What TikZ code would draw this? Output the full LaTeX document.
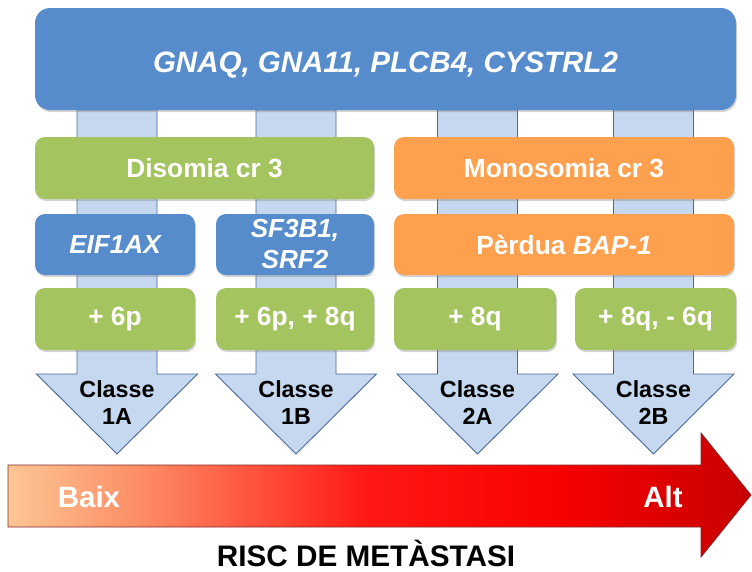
\documentclass[tikz,border=0pt]{standalone}
\usepackage{fontspec}
\setmainfont{Liberation Sans}
\usetikzlibrary{shadows, backgrounds}

\definecolor{geneblue}{RGB}{86,139,204}
\definecolor{disgreen}{RGB}{164,196,96}
\definecolor{monorange}{RGB}{255,160,78}
\definecolor{shaftfill}{RGB}{198,216,239}
\definecolor{shaftline}{RGB}{74,104,150}
\definecolor{riskline}{RGB}{130,40,40}
\definecolor{riskA}{RGB}{253,198,148}
\definecolor{riskB}{RGB}{253,140,100}
\definecolor{riskC}{RGB}{255,25,20}
\definecolor{riskD}{RGB}{248,0,0}
\definecolor{riskE}{RGB}{200,0,0}
\pgfdeclarehorizontalshading{riskshade}{100bp}{color(0bp)=(riskA); color(25bp)=(riskA); color(34bp)=(riskB); color(49bp)=(riskC); color(62bp)=(riskD); color(75bp)=(riskE); color(100bp)=(riskE)}

\begin{document}
\begin{tikzpicture}[x=1pt, y=-1pt,
  box/.style={rounded corners=10pt, minimum height=62pt, inner sep=0pt, align=center, text=white,
    font=\fontsize{26.3}{31}\selectfont\bfseries,
    drop shadow={opacity=0.35, shadow xshift=1pt, shadow yshift=-2pt}},
  bluebox/.style={box, fill=geneblue},
  greenbox/.style={box, fill=disgreen},
  orangebox/.style={box, fill=monorange},
  shaft/.style={fill=shaftfill, draw=shaftline, line width=0.9pt},
  classe/.style={font=\fontsize{23.3}{27}\selectfont\bfseries, align=center},
  risk/.style={text=white, font=\fontsize{29.4}{33}\selectfont\bfseries}]
\useasboundingbox (0,0) rectangle (752,571);

\node[bluebox, minimum width=701pt, minimum height=102pt, rounded corners=15pt, text height=26pt, text depth=0pt,
  font=\fontsize{29.5}{34}\selectfont\bfseries\itshape] (genes) at (385.5,59) {GNAQ, GNA11, PLCB4, CYSTRL2};

\node[greenbox, minimum width=339pt] (diso) at (204.5,168) {Disomia cr 3};
\node[orangebox, minimum width=340pt] (mono) at (564,168) {Monosomia cr 3};

\node[bluebox, minimum width=160pt, minimum height=61pt, font=\fontsize{26.1}{31}\selectfont\bfseries\itshape] (eif) at (115,244.5) {EIF1AX};
\node[bluebox, minimum width=158pt, minimum height=61pt, font=\fontsize{26.1}{31}\selectfont\bfseries\itshape] (sf) at (295,244.5) {SF3B1,\\SRF2};
\node[orangebox, minimum width=340pt, minimum height=61pt] (bap) at (564,244.5) {Pèrdua \textit{BAP-1}};

\node[greenbox, minimum width=160pt] (g6p) at (115,319) {+ 6p};
\node[greenbox, minimum width=158pt] (g6p8q) at (295,319) {+ 6p, + 8q};
\node[greenbox, minimum width=162pt] (g8q) at (475,319) {+ 8q};
\node[greenbox, minimum width=161pt] (g8q6q) at (655.5,319) {+ 8q, - 6q};

%Classes
\foreach \cx/\cls/\lab in {117/c1a/1A, 296/c1b/1B, 477.5/c2a/2A, 653.5/c2b/2B} {
  \node[classe] (\cls) at (\cx,403) {Classe\\\lab};
  \coordinate (\cls tip) at (\cx,454);
  \begin{scope}[on background layer]
    \draw[shaft] (\cx-40,110) -- (\cx-40,374) -- (\cx-80.5,374) -- (\cls tip)
      -- (\cx+80.5,374) -- (\cx+40,374) -- (\cx+40,110) -- cycle;
  \end{scope}
}

%Risc
\shadedraw[shading=riskshade, draw=riskline, line width=0.8pt]
  (8,465) -- (701,465) -- (701,433) -- (751,495) -- (701,557) -- (701,527) -- (8,527) -- cycle;
\node[risk] (baix) at (89,497) {Baix};
\node[risk] (alt) at (663,497) {Alt};
\node[font=\fontsize{29.7}{34}\selectfont\bfseries] (risc) at (366,553) {RISC DE METÀSTASI};
\end{tikzpicture}
\end{document}
